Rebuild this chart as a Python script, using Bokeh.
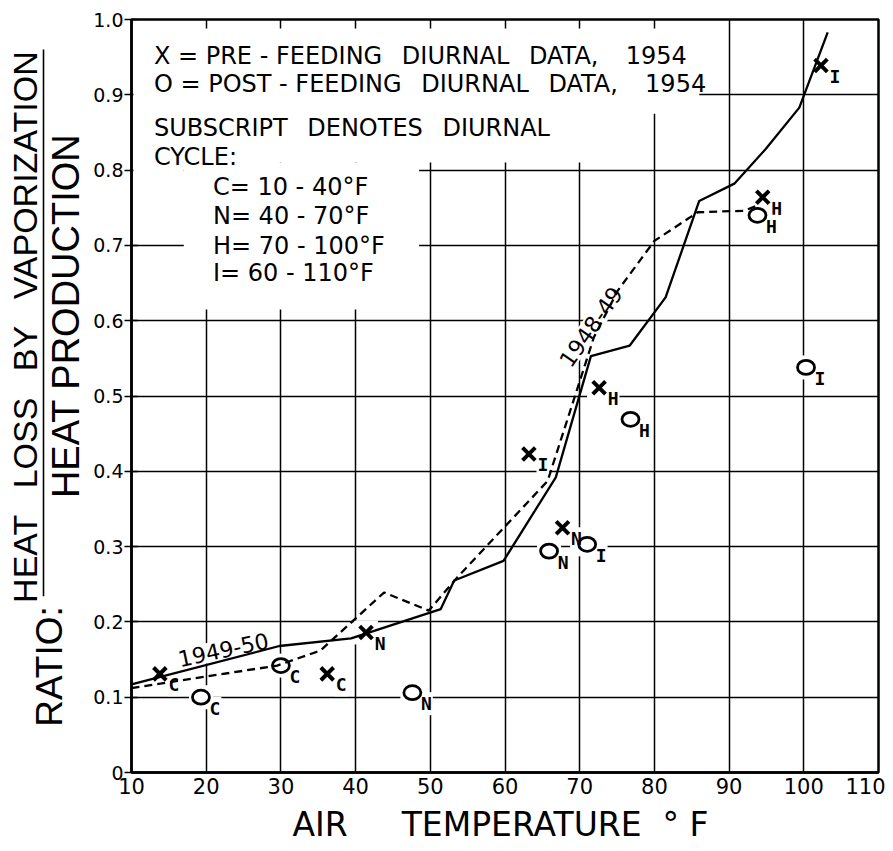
import numpy as np
from bokeh.plotting import figure
from bokeh.layouts import row, column
from bokeh.models import Range1d, FixedTicker, Label, BoxAnnotation, ColumnDataSource
from bokeh.core.properties import value
from bokeh.embed import file_html
from bokeh.resources import INLINE

# ---------------- data ----------------
x_ticks = [10, 20, 30, 40, 50, 60, 70, 80, 90, 100, 110]
x_tick_labels = ["10", "20", "30", "40", "50", "60", "70", "80", "90", "100", "110"]
y_ticks = [0, 0.1, 0.2, 0.3, 0.4, 0.5, 0.6, 0.7, 0.8, 0.9, 1.0]
y_tick_labels = ["0", "0.1", "0.2", "0.3", "0.4", "0.5", "0.6", "0.7", "0.8", "0.9", "1.0"]

# 1949-50 curve (solid)
solid_x = [10, 29.8, 39.4, 51.4, 53.2, 59.8, 66.8, 71.5, 76.7, 81.5, 86.0, 90.7, 94.9, 99.4, 103.2]
solid_y = [0.117, 0.168, 0.178, 0.217, 0.255, 0.281, 0.392, 0.553, 0.567, 0.631, 0.759, 0.782, 0.828, 0.883, 0.983]
# 1948-49 curve (dashed)
dashed_x = [10, 29.5, 35.3, 43.8, 49.8, 53.6, 65.7, 71.9, 75.1, 80.0, 85.8, 92.0, 93.8]
dashed_y = [0.112, 0.142, 0.162, 0.239, 0.215, 0.259, 0.387, 0.578, 0.640, 0.706, 0.744, 0.746, 0.753]
curve_names = ["1949-50", "1948-49"]

# pre-feeding diurnal data 1954 (X)
pre_x = [13.8, 36.2, 41.4, 67.7, 63.2, 72.6, 94.5, 102.3]
pre_y = [0.131, 0.131, 0.186, 0.325, 0.423, 0.511, 0.764, 0.939]
pre_cycle = ["C", "C", "N", "N", "I", "H", "H", "I"]
# post-feeding diurnal data 1954 (O)
post_x = [19.3, 30.0, 47.6, 65.9, 71.0, 76.8, 93.8, 100.3]
post_y = [0.100, 0.142, 0.106, 0.294, 0.303, 0.469, 0.740, 0.538]
post_cycle = ["C", "C", "N", "N", "I", "H", "H", "I"]

legend_lines = [
    "X = PRE - FEEDING\u00a0\u2002DIURNAL\u00a0\u2002DATA,\u00a0\u2002 1954",
    "O = POST - FEEDING\u00a0\u2002DIURNAL\u00a0\u2002DATA,\u00a0\u2002 1954",
    "SUBSCRIPT\u00a0\u2002DENOTES\u00a0\u2002DIURNAL",
    "CYCLE:",
]
cycle_lines = ["C= 10 - 40\u00b0F", "N= 40 - 70\u00b0F", "H= 70 - 100\u00b0F", "I= 60 - 110\u00b0F"]

x_title = "AIR\u00a0\u2003\u00a0TEMPERATURE\u00a0\u00a0\u00b0\u00a0F"
y_title_top = "HEAT\u00a0\u2002LOSS\u00a0\u2002BY\u00a0\u2002VAPORIZATION"
y_title_bottom = "HEAT PRODUCTION"
y_title_prefix = "RATIO:"

FONT = "DejaVu Sans"
SUBFONT = "DejaVu Sans Mono"
TFONT = "Liberation Sans"

LEFT_W = 88
TOP_H = 803
TOTAL_W = 885
STRIP_H = 40


def bare(fig):
    fig.background_fill_color = "white"
    fig.border_fill_color = "white"
    fig.outline_line_color = None
    fig.grid.visible = False
    return fig


# ---------------- main figure ----------------
p = figure(width=TOTAL_W - LEFT_W, height=TOP_H, x_range=Range1d(10, 110), y_range=Range1d(0, 1.0),
           output_backend="svg", toolbar_location=None,
           min_border_left=131 - LEFT_W, min_border_right=7, min_border_top=19,
           min_border_bottom=TOP_H - 772)
p.background_fill_color = "white"
p.border_fill_color = "white"
p.outline_line_color = "black"
p.outline_line_width = 2.5

p.xgrid.ticker = FixedTicker(ticks=x_ticks)
p.ygrid.ticker = FixedTicker(ticks=y_ticks)
for g in (p.xgrid, p.ygrid):
    g.grid_line_color = "black"
    g.grid_line_width = 1.5
    g.grid_line_alpha = 1.0

p.xaxis.ticker = FixedTicker(ticks=x_ticks)
p.xaxis.major_label_overrides = {t: l for t, l in zip(x_ticks, x_tick_labels)}
p.xaxis.major_tick_out = 0
p.xaxis.major_tick_in = 0
p.xaxis.minor_tick_out = 0
p.xaxis.minor_tick_in = 0
p.xaxis.major_label_standoff = 5
p.xaxis.major_label_text_font = FONT
p.xaxis.major_label_text_font_size = "21px"
p.xaxis.major_label_text_color = "black"
p.xaxis.axis_line_width = 2.5
p.xaxis.axis_line_color = "black"

p.yaxis.ticker = FixedTicker(ticks=y_ticks)
p.yaxis.major_label_overrides = {t: l for t, l in zip(y_ticks, y_tick_labels)}
p.yaxis.major_tick_out = 7
p.yaxis.major_tick_in = 6
p.yaxis.minor_tick_out = 0
p.yaxis.minor_tick_in = 0
p.yaxis.major_tick_line_width = 1.5
p.yaxis.major_label_standoff = 1
p.yaxis.major_label_text_font = FONT
p.yaxis.major_label_text_font_size = "19px"
p.yaxis.major_label_text_color = "black"
p.yaxis.axis_line_width = 2.5
p.yaxis.axis_line_color = "black"

# white masks: gaps in the grid around the key text
for l, r, b, t in [(10.25, 77, 0.81, 0.988), (77, 86, 0.875, 0.988),
                   (17, 48.5, 0.615, 0.81), (10.25, 17, 0.71, 0.81)]:
    p.add_layout(BoxAnnotation(left=l, right=r, bottom=b, top=t,
                               fill_color="white", fill_alpha=1.0, line_color=None))

# white patches behind the points (breaks in grid lines)
all_x = pre_x + post_x
all_y = pre_y + post_y
p.scatter(all_x, all_y, marker="square", size=24, fill_color="white", line_color=None)

# subscripts
sub_src = ColumnDataSource(dict(x=all_x, y=all_y, t=pre_cycle + post_cycle))
p.text(x="x", y="y", text="t", source=sub_src, x_offset=14, y_offset=11,
       text_font=value(SUBFONT), text_font_size="18px", text_font_style="bold",
       text_color="black", text_align="center", text_baseline="middle",
       background_fill_color="white", padding=1)

# curve labels
lab_src = ColumnDataSource(dict(x=[22.3, 71.5], y=[0.163, 0.592], t=curve_names,
                                a=[np.radians(12), np.radians(55)]))
p.text(x="x", y="y", text="t", angle="a", source=lab_src,
       text_font=value(FONT), text_font_size="22px", text_color="black",
       text_align="center", text_baseline="middle",
       background_fill_color="white", padding=2)

# curves
p.line(solid_x, solid_y, line_color="black", line_width=2.3)
p.line(dashed_x, dashed_y, line_color="black", line_width=2.3, line_dash="8 5")

# markers
p.scatter(pre_x, pre_y, marker="x", size=18, line_color="black", line_width=4)
p.ellipse(post_x, post_y, width=17, height=14, width_units="screen", height_units="screen",
          fill_color=None, line_color="black", line_width=2.8)

# key text
key_y = [0.952, 0.915, 0.8565, 0.818]
for txt, yy in zip(legend_lines, key_y):
    p.add_layout(Label(x=13.0, y=yy, text=txt, text_font=FONT, text_font_size="24px",
                       text_color="black", text_align="left", text_baseline="middle"))
cyc_y = [0.777, 0.7395, 0.6996, 0.6637]
for txt, yy in zip(cycle_lines, cyc_y):
    p.add_layout(Label(x=20.9, y=yy, text=txt, text_font=FONT, text_font_size="24px",
                       text_color="black", text_align="left", text_baseline="middle"))

# ---------------- left strip: y-axis title (fraction) ----------------
left = bare(figure(width=LEFT_W, height=TOP_H, x_range=Range1d(0, LEFT_W), y_range=Range1d(0, TOP_H),
                   output_backend="svg", toolbar_location=None, min_border=0,
                   x_axis_location=None, y_axis_location=None))
ysrc = ColumnDataSource(dict(x=[24, 65.5, 48.5], y=[TOP_H - 328, TOP_H - 316, TOP_H - 690],
                             t=[y_title_top, y_title_bottom, y_title_prefix],
                             s=["34px", "38px", "37px"]))
left.text(x="x", y="y", text="t", source=ysrc, angle=np.pi / 2, text_font=value(TFONT),
          text_font_size="s", text_color="black", text_align="center", text_baseline="middle")
left.line([43, 43], [TOP_H - 32, TOP_H - 615], line_color="black", line_width=1.6)

# ---------------- bottom strip: x-axis title ----------------
bottom = bare(figure(width=TOTAL_W, height=STRIP_H, x_range=Range1d(0, TOTAL_W), y_range=Range1d(0, STRIP_H),
                     output_backend="svg", toolbar_location=None, min_border=0,
                     x_axis_location=None, y_axis_location=None))
bottom.text(x=[500], y=[STRIP_H - (824 - TOP_H)], text=[x_title], text_font=value(FONT),
            text_font_size="33px", text_color="black", text_align="center", text_baseline="middle")

layout = column(row(left, p, spacing=0), bottom, spacing=0)
open("out.html", "w").write(file_html(layout, INLINE))
